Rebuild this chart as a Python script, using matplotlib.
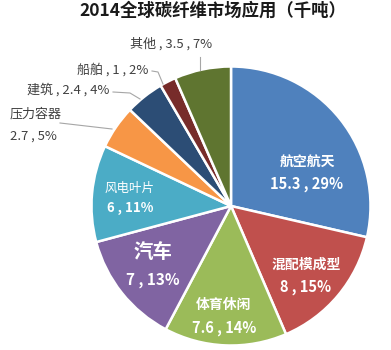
import matplotlib
matplotlib.use("Agg")
import matplotlib.pyplot as plt
import numpy as np

plt.rcParams['font.family'] = ['Noto Sans CJK SC', 'DejaVu Sans']

title = "2014全球碳纤维市场应用（千吨）"
categories = ["航空航天", "混配模成型", "体育休闲", "汽车", "风电叶片", "压力容器", "建筑", "船舶", "其他"]
values = [15.3, 8, 7.6, 7, 6, 2.7, 2.4, 1, 3.5]
percents = ["29%", "15%", "14%", "13%", "11%", "5%", "4%", "2%", "7%"]
colors = ["#4F81BD", "#C0504D", "#9BBB59", "#8064A2", "#4BACC6",
          "#F79646", "#2C4D75", "#772C2A", "#5F7530"]

def fmt(v):
    return ("%g" % v)

W, H = 391, 350
fig = plt.figure(figsize=(W / 100, H / 100), dpi=100)
cx, cy, r = 231, 206, 139.5
ax = fig.add_axes([(cx - r) / W, (H - cy - r) / H, 2 * r / W, 2 * r / H])
ax.pie(values, colors=colors, startangle=90, counterclock=False, radius=1,
       wedgeprops=dict(edgecolor="white", linewidth=1.8))
ax.set_xlim(-1, 1)
ax.set_ylim(-1, 1)
ax.axis("off")

def P(x, y):
    return ((x - cx) / r, (cy - y) / r)

# inside labels: (name pos px, value pos px, name size, value size, name bold)
inside = {
    0: ((307, 162), (307, 184), 10, 10.5, True),
    1: ((306, 265), (306, 287), 10, 10.5, True),
    2: ((224, 305), (224, 328), 10, 10.5, True),
    3: ((153, 253), (153, 280), 14, 11, True),
    4: ((130, 188), (130, 208), 9, 9.5, False),
}
for i, (npos, vpos, ns, vs, nb) in inside.items():
    ax.text(*P(*npos), categories[i], color="white", fontsize=ns,
            fontweight="bold" if nb else "normal", ha="center", va="center")
    ax.text(*P(*vpos), f"{fmt(values[i])} , {percents[i]}", color="white",
            fontsize=vs, fontweight="bold", ha="center", va="center")

txtc = "#404040"
linec = "#A6A6A6"
fs_out = 9.4
# outside labels
ax.text(*P(171, 44), f"{categories[8]} , {fmt(values[8])} , {percents[8]}",
        color=txtc, fontsize=fs_out, ha="center", va="center")
ax.text(*P(113, 70), f"{categories[7]} , {fmt(values[7])} , {percents[7]}",
        color=txtc, fontsize=fs_out, ha="center", va="center")
ax.text(*P(68, 90), f"{categories[6]} , {fmt(values[6])} , {percents[6]}",
        color=txtc, fontsize=fs_out, ha="center", va="center")
ax.text(*P(10, 114), categories[5], color=txtc, fontsize=fs_out, ha="left", va="center")
ax.text(*P(10, 136), f"{fmt(values[5])} , {percents[5]}", color=txtc, fontsize=fs_out,
        ha="left", va="center")

leaders = [
    [(200, 57), (200, 70)],
    [(152, 71), (158, 72), (163, 84)],
    [(113, 92), (130, 93), (140, 99)],
    [(60, 123), (112, 129)],
]
for pts in leaders:
    xs, ys = zip(*[P(*p) for p in pts])
    ax.plot(xs, ys, color=linec, lw=0.8, clip_on=False)

fig.text(213 / W, 1 - 11 / H, title, fontsize=12.5, fontweight="bold",
         ha="center", va="center", color="#1a1a1a")

fig.savefig("out.png", dpi=100)
